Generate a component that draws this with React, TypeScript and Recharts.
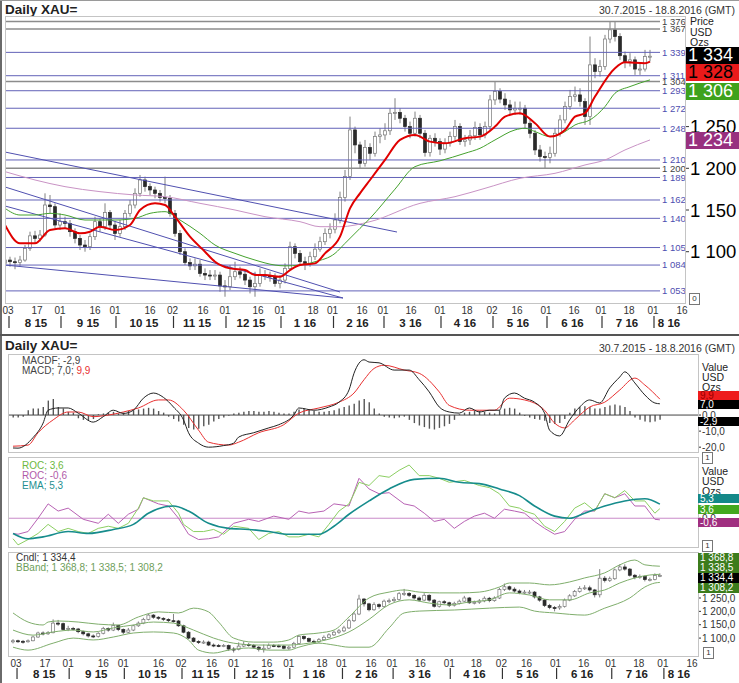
import React from 'react'
import { ComposedChart, Bar, Line, XAxis, YAxis, ReferenceLine } from 'recharts'

const FONT = '"Liberation Sans", Arial, sans-serif'

// x axis: one index step = two trading days
const dayTicks = [0.6, 6.4, 11, 18, 22, 29, 33.5, 39.6, 44, 50.6, 55, 61.6, 65.5, 71.4, 75.6, 81.2, 87, 92.4, 97.4, 102.4, 108.2, 113.8, 119.2, 124.8, 129.6, 135.4]
const dayLabels = ['03', '17', '01', '16', '01', '16', '02', '16', '01', '16', '01', '18', '01', '16', '01', '16', '01', '18', '02', '16', '01', '16', '01', '18', '01', '16']
const monthTicks = [6.2, 16.6, 27.8, 38.4, 49.2, 60, 70.5, 81.1, 92, 102.6, 113.5, 124.4, 132.8]
const monthLabels = ['8 15', '9 15', '10 15', '11 15', '12 15', '1 16', '2 16', '3 16', '4 16', '5 16', '6 16', '7 16', '8 16']

// candles
const firstOpen = 1086
const closes = [
  1090, 1088, 1087, 1090, 1104, 1119, 1116, 1120, 1156, 1154,
  1132, 1136, 1134, 1124, 1116, 1108, 1106, 1118, 1136, 1130,
  1147, 1132, 1122, 1130, 1146, 1156, 1170, 1186, 1178, 1174,
  1170, 1165, 1164, 1146, 1122, 1100, 1087, 1083, 1085, 1074,
  1072, 1071, 1072, 1059, 1058, 1070, 1076, 1073, 1066, 1058,
  1062, 1072, 1071, 1070, 1062, 1066, 1080, 1106, 1098, 1088,
  1086, 1094, 1103, 1112, 1122, 1127, 1138, 1165, 1190, 1246,
  1228, 1206, 1225, 1218, 1238, 1240, 1245, 1266, 1267, 1260,
  1250, 1242, 1260, 1242, 1219, 1236, 1232, 1223, 1230, 1238,
  1250, 1232, 1234, 1239, 1249, 1240, 1250, 1282, 1292, 1283,
  1276, 1270, 1272, 1272, 1254, 1242, 1222, 1214, 1213, 1218,
  1242, 1258, 1274, 1286, 1288, 1280, 1262, 1324, 1316, 1322,
  1355, 1366, 1358, 1335, 1328, 1330, 1319, 1319, 1334, 1334.4
]
const highs = [
  1096, 1094, 1093, 1095, 1108, 1124, 1125, 1126, 1170, 1168,
  1158, 1146, 1142, 1138, 1128, 1120, 1114, 1122, 1142, 1140,
  1158, 1150, 1136, 1138, 1150, 1162, 1176, 1192, 1190, 1182,
  1178, 1174, 1190, 1168, 1150, 1126, 1104, 1092, 1092, 1090,
  1080, 1078, 1078, 1076, 1066, 1084, 1088, 1082, 1078, 1070,
  1076, 1080, 1078, 1076, 1074, 1072, 1086, 1112, 1110, 1102,
  1094, 1100, 1110, 1118, 1128, 1134, 1146, 1172, 1198, 1262,
  1250, 1232, 1234, 1230, 1244, 1248, 1254, 1272, 1284, 1272,
  1264, 1256, 1268, 1264, 1246, 1240, 1242, 1236, 1236, 1244,
  1258, 1254, 1240, 1246, 1256, 1254, 1256, 1288, 1304, 1296,
  1290, 1282, 1280, 1280, 1276, 1258, 1246, 1228, 1220, 1226,
  1248, 1264, 1280, 1294, 1298, 1296, 1284, 1358, 1332, 1330,
  1360, 1376, 1376, 1362, 1340, 1338, 1334, 1326, 1342, 1342
]
const lows = [
  1080, 1082, 1079, 1083, 1088, 1101, 1110, 1112, 1118, 1146,
  1128, 1126, 1128, 1118, 1110, 1102, 1100, 1102, 1114, 1124,
  1126, 1126, 1114, 1118, 1126, 1142, 1152, 1166, 1172, 1168,
  1164, 1160, 1158, 1142, 1118, 1096, 1084, 1078, 1078, 1070,
  1066, 1066, 1066, 1052, 1046, 1054, 1066, 1068, 1060, 1050,
  1046, 1058, 1066, 1064, 1058, 1056, 1062, 1078, 1092, 1084,
  1078, 1082, 1090, 1100, 1108, 1116, 1122, 1134, 1160, 1186,
  1218, 1200, 1202, 1210, 1214, 1230, 1234, 1240, 1258, 1254,
  1244, 1236, 1238, 1236, 1214, 1214, 1226, 1216, 1218, 1226,
  1234, 1228, 1226, 1228, 1234, 1234, 1236, 1246, 1276, 1278,
  1270, 1264, 1264, 1264, 1248, 1236, 1216, 1208, 1200, 1206,
  1214, 1238, 1254, 1270, 1280, 1274, 1252, 1252, 1308, 1310,
  1318, 1350, 1352, 1330, 1320, 1322, 1312, 1312, 1316, 1328
]

// moving averages [index, value]
const maFast = [[0, 1132], [3, 1110], [6, 1110], [9, 1126], [12, 1128], [15, 1122], [17, 1124], [19, 1130], [22, 1126], [25, 1132], [27, 1150], [30, 1158], [32, 1156], [34, 1142], [37, 1118], [40, 1100], [42, 1088], [45, 1080], [48, 1078], [50, 1072], [52, 1072], [55, 1070], [57, 1078], [59, 1084], [62, 1086], [64, 1098], [67, 1118], [69, 1152], [71, 1170], [73, 1186], [76, 1210], [79, 1234], [82, 1240], [85, 1232], [88, 1230], [92, 1236], [95, 1238], [98, 1250], [100, 1262], [103, 1266], [106, 1254], [109, 1238], [112, 1246], [114, 1262], [116, 1266], [118, 1286], [122, 1320], [124, 1327], [128, 1326], [129, 1328]]
const maMid = [[0, 1152], [3, 1144], [6, 1144], [9, 1146], [12, 1144], [16, 1138], [19, 1138], [22, 1138], [26, 1140], [29, 1146], [32, 1148], [35, 1138], [39, 1122], [42, 1108], [46, 1098], [50, 1090], [54, 1084], [56, 1083], [59, 1084], [62, 1088], [66, 1098], [68, 1110], [71, 1128], [73, 1140], [78, 1175], [82, 1202], [87, 1209], [92, 1218], [95, 1224], [98, 1234], [102, 1246], [104, 1248], [106, 1244], [109, 1238], [112, 1244], [114, 1252], [117, 1258], [120, 1274], [122, 1290], [125, 1298], [129, 1306]]
const maSlow = [[0, 1196], [6, 1186], [12, 1178], [19, 1172], [26, 1168], [32, 1166], [39, 1158], [46, 1150], [52, 1142], [59, 1136], [63, 1130], [67, 1130], [73, 1136], [83, 1158], [90, 1166], [96, 1176], [103, 1188], [110, 1194], [116, 1204], [120, 1210], [124, 1222], [129, 1234]]

const levels = [1376, 1367, 1339, 1311, 1304, 1293, 1272, 1248, 1210, 1200, 1189, 1162, 1140, 1105, 1084, 1053]
const greyLevels = [1376, 1367, 1304, 1200]
const trendLines = [
  [[0, 1219.5], [78.4, 1123.6]],
  [[0, 1177.6], [67, 1051.7]],
  [[0, 1154.8], [67.6, 1044.5]],
  [[0, 1084], [67.6, 1044.5]]
]

// MACD
const macdLine = [[0, -20.5], [1, -20.6], [4, -14], [6, -5], [7, 3], [9, 4.4], [11, 4.4], [13, 1.2], [16, -4.4], [18, -1], [20, 3], [22, 1], [24, 3], [26, 10.5], [28, 13.7], [30, 11], [32, 5], [34, -3], [35, -11], [37, -17.5], [39, -20], [42, -19], [44, -17.5], [45, -13.7], [48, -11], [51, -8], [53, -6], [56, 0], [57, 4.4], [60, 3], [63, 5], [65, 8], [67, 15.6], [68, 26], [70, 34.4], [71, 33], [73, 32.5], [76, 28], [79, 28], [81, 22], [83, 14.4], [85, 5], [87, 1.9], [89, 1.2], [91, 4.4], [93, 1.9], [95, 3], [97, 3], [98, 10.5], [100, 13.7], [102, 10.5], [104, 8], [106, 1.2], [107, -9.4], [109, -13], [111, -3], [113, 5], [115, 9.4], [117, 7.5], [119, 16.9], [121, 23.7], [122, 26.9], [124, 20], [126, 12.5], [128, 7.5], [129, 7.0]]
const macdSignal = [[0, -19.4], [3, -18.7], [5, -11], [8, -3], [11, 1.9], [13, 1.9], [16, -1], [19, 0], [22, 1.9], [25, 4.4], [29, 9.4], [31, 9.4], [34, 3], [37, -9.4], [39, -16.9], [43, -18.7], [45, -16.9], [49, -11], [54, -6], [57, 1.2], [61, 4.4], [65, 8], [68, 13.7], [70, 22], [72, 29], [74, 31], [78, 28], [81, 26], [85, 14.4], [87, 6], [91, 3], [93, 3], [96, 3], [99, 10.5], [102, 9.4], [106, 3], [108, -5], [110, -8], [112, -3], [115, 5], [118, 8], [121, 15.6], [124, 23], [126, 18.7], [129, 9.9]]
const macdHist = [
  -1.5, -1.5, -1, 3, 4, 4, 5, 9, 10, 5,
  4, 2, 1.5, -2, -3, -3.5, -2.5, 0.5, 1, 1.5,
  2, 1, 1.5, 2.5, 3, 3.5, 4, 4.5, 4, 2.5,
  1.5, -1, -2.5, -4, -6, -8, -9, -8.5, -7, -6,
  -4, -2.5, -1.5, -0.5, 1, 1.5, 2, 2.5, 2.5, 2,
  2, 2.5, 2, 1.5, 1, 1, 2, 3.5, 4, 3.5,
  2.5, 2, 2, 2.5, 3, 4, 5, 6, 7, 9,
  10, 8, 4, 1, -1, -1.5, -2, -1.5, -1, -3,
  -5, -6.5, -7.5, -8.5, -9, -8, -7, -5.5, -3, 0.5,
  1.5, 2, 2.5, 2.5, 2, 1.5, 1, 3, 4, 4.5,
  4, 1.5, -0.5, -1.5, -2.5, -3, -3.5, -5, -5.5, -5,
  -2.5, 1.5, 4, 5, 5.5, 5, 4, 4, 5, 6,
  6.5, 6, 5, 2.5, -1.5, -3, -4, -4.5, -4, -2.9
]

// ROC
const rocFast = [[0, -7.7], [1, -10], [3, -8], [5, -5.7], [7, -2.3], [9, -5], [11, -3.8], [13, -5], [15, -5.7], [17, -3.8], [19, -3], [21, -3.8], [23, -1.9], [25, 3.8], [26, 7.7], [28, 6.5], [31, 6.5], [33, 1.9], [34, -2.3], [36, -5], [38, -5], [40, -4.2], [42, -6], [44, -3], [47, -3.8], [49, -8], [51, -5.7], [53, -5], [55, -7], [57, -7], [59, -6], [61, -7], [63, -2.3], [65, 2.7], [67, 5.4], [68, 9.2], [69, 13.5], [71, 12.3], [73, 16], [75, 15.4], [77, 18], [79, 20], [81, 16], [83, 16], [85, 15], [87, 13.5], [90, 14.2], [93, 12.3], [95, 11.5], [97, 9.2], [99, 4.6], [101, 3.8], [102, 2.7], [104, 1.5], [106, -3], [108, -5], [110, -1.2], [112, 3.8], [114, 5.8], [116, 2.7], [118, 9.2], [120, 7.7], [122, 10.4], [124, 6.5], [126, 6.5], [128, 1.9], [129, 3.6]]
const rocSlow = [[0, -5.7], [1, -6], [3, -5], [5, 0], [7, 5.4], [9, 2.7], [11, 3.8], [14, -0.4], [17, -1.9], [19, 1.5], [21, -1.9], [23, 1.5], [25, 3.4], [26, 7.7], [29, 5.4], [31, 4.6], [33, 0], [35, -6], [37, -8], [39, -7.7], [41, -7], [44, -1.9], [47, -0.4], [49, -1.2], [52, 0.8], [55, -0.4], [57, 2.7], [59, 1.9], [62, 2.7], [64, 5.4], [67, 4.6], [69, 15], [71, 11], [73, 9.2], [75, 9.6], [78, 5.4], [80, 4.6], [82, 1.9], [84, -1.2], [86, -0.4], [88, -3.8], [90, -1.2], [92, 0.8], [94, 1.9], [96, 0], [98, 3.4], [100, 2.7], [102, 1.9], [104, -1.2], [106, -3.8], [108, -6], [110, -5], [112, -0.4], [114, 2.7], [116, 2.7], [118, 9.2], [120, 7.7], [122, 9.2], [124, 4.6], [126, 4.6], [128, -0.4], [129, -0.6]]
const rocEma = [[0, -5.7], [3, -7.7], [6, -7], [11, -5], [15, -5.7], [20, -4.2], [24, -2.3], [27, 1.9], [32, 4.6], [35, 2.7], [39, -1.9], [43, -3.8], [47, -4.2], [51, -5], [55, -6], [61, -6], [64, -3], [67, 1.5], [71, 6.5], [75, 11], [80, 14.6], [85, 15], [89, 13.5], [93, 13], [97, 11], [101, 8.5], [104, 4.6], [108, 0.8], [111, 0], [114, 1.9], [118, 4.6], [122, 6.5], [126, 7.3], [129, 5.3]]

// Bollinger bands
const bbUpper = [[0, 1194], [3, 1160], [6, 1149], [7, 1160], [9, 1164], [13, 1160], [17, 1152], [21, 1149], [25, 1179], [29, 1198], [33, 1194], [36, 1212], [39, 1198], [41, 1160], [44, 1100], [48, 1085], [52, 1085], [55, 1093], [57, 1111], [61, 1119], [64, 1130], [67, 1179], [71, 1250], [75, 1272], [78, 1280], [81, 1272], [85, 1269], [89, 1269], [93, 1272], [97, 1291], [99, 1306], [103, 1306], [107, 1299], [111, 1310], [114, 1325], [118, 1344], [121, 1374], [124, 1392], [126, 1374], [129, 1368.8]]
const bbMiddle = [[0, 1130], [4, 1111], [8, 1123], [12, 1130], [16, 1123], [20, 1138], [24, 1149], [28, 1160], [32, 1156], [36, 1130], [40, 1100], [44, 1081], [49, 1074], [55, 1074], [59, 1081], [63, 1096], [67, 1123], [71, 1170], [75, 1225], [79, 1243], [83, 1231], [87, 1224], [91, 1235], [95, 1243], [99, 1269], [103, 1261], [107, 1243], [111, 1243], [115, 1269], [118, 1280], [121, 1306], [124, 1325], [127, 1336], [129, 1338.5]]
const bbLower = [[0, 1066], [3, 1055], [8, 1081], [12, 1100], [16, 1093], [20, 1104], [24, 1119], [28, 1123], [32, 1119], [35, 1093], [37, 1055], [40, 1044], [43, 1055], [47, 1063], [51, 1055], [55, 1055], [57, 1066], [61, 1081], [64, 1074], [67, 1066], [71, 1066], [75, 1138], [78, 1194], [81, 1201], [88, 1205], [95, 1212], [101, 1216], [104, 1201], [108, 1194], [114, 1186], [118, 1212], [123, 1250], [126, 1291], [128, 1306], [129, 1308.2]]

const rows: any[] = closes.map((c, i) => ({
  i,
  open: i === 0 ? firstOpen : closes[i - 1],
  close: c,
  high: highs[i],
  low: lows[i],
  range: [lows[i], highs[i]],
  hist: macdHist[i]
}))
const put = (key: string, pts: number[][]) => pts.forEach(([i, v]) => { rows[i][key] = v })
put('maFast', maFast)
put('maMid', maMid)
put('maSlow', maSlow)
put('macd', macdLine)
put('signal', macdSignal)
put('rocFast', rocFast)
put('rocSlow', rocSlow)
put('rocEma', rocEma)
put('bbU', bbUpper)
put('bbM', bbMiddle)
put('bbL', bbLower)

const last = (pts: number[][]) => pts[pts.length - 1][1]

const fmt = (v: number, dec = 0) => {
  const s = Math.abs(v).toFixed(dec)
  const [int, frac] = s.split('.')
  const g = int.replace(/\B(?=(\d{3})+(?!\d))/g, ' ')
  return (v < 0 ? '-' : '') + g + (frac ? ',' + frac : '')
}

const Candle = (props: any) => {
  const { x, y, width, height, payload } = props
  if (payload == null || height == null || isNaN(y)) return null
  const { open, close, high, low } = payload
  const k = high - low ? height / (high - low) : 0
  const yo = y + (high - open) * k
  const yc = y + (high - close) * k
  const top = Math.min(yo, yc)
  const h = Math.max(1, Math.abs(yo - yc))
  const cx = x + width / 2
  const up = close >= open
  return (
    <g>
      <line x1={cx} x2={cx} y1={y} y2={y + height} stroke="#808080" strokeWidth={1} />
      <rect x={x} y={top} width={width} height={h} fill={up ? '#ffffff' : '#2a2a2a'} stroke={up ? '#777' : '#2a2a2a'} strokeWidth={0.7} />
    </g>
  )
}

const DayTick = ({ x, y, payload, sepFrom, sepTo, dy }: any) => {
  const idx = dayTicks.indexOf(payload.value)
  const label = dayLabels[idx] ?? ''
  const monthStart = Number(label) <= 3
  return (
    <g>
      <text x={x} y={y + dy} textAnchor="middle" fontSize={10} fill="#333" fontFamily={FONT}>{label}</text>
      {monthStart && <line x1={x + 1} x2={x + 1} y1={y + sepFrom} y2={y + sepTo} stroke="#333" strokeWidth={1.2} />}
    </g>
  )
}

const MonthTick = ({ x, y, payload, dy }: any) => {
  const idx = monthTicks.indexOf(payload.value)
  return (
    <text x={x} y={y + dy} textAnchor="middle" fontSize={11.5} fontWeight="bold" fill="#222" fontFamily={FONT}>{monthLabels[idx]}</text>
  )
}

// right axis tick that never wraps
const ValueTick = ({ x, y, payload, dec, size = 10, len = 3 }: any) => (
  <g>
    <line x1={x} x2={x + len} y1={y} y2={y} stroke="#333" strokeWidth={1} />
    <text x={x + len + 1} y={y + size * 0.36} fontSize={size} fill={size > 12 ? '#000' : '#333'} fontFamily={FONT}>{fmt(payload.value, dec)}</text>
  </g>
)

const Tag = ({ top, left, w, h, bg, color, text, size }: any) => (
  <div style={{ position: 'absolute', top, left, width: w, height: h, background: bg, color, fontSize: size, lineHeight: h + 'px', paddingLeft: 2, fontFamily: FONT, whiteSpace: 'nowrap', boxSizing: 'border-box' }}>{text}</div>
)

const Txt = ({ top, left, size, color = '#222', bold, children, right }: any) => (
  <div style={{ position: 'absolute', top, left, right, fontSize: size, color, fontFamily: FONT, fontWeight: bold ? 'bold' : 'normal', whiteSpace: 'nowrap', lineHeight: 1 }}>{children}</div>
)

const Frame = ({ left, top, width, height, color = '#c4c4c4' }: any) => (
  <div style={{ position: 'absolute', left, top, width, height, border: '1px solid ' + color, boxSizing: 'border-box', pointerEvents: 'none' }} />
)

const SmallBox = ({ left, top, text }: any) => (
  <div style={{ position: 'absolute', left, top, width: 9, height: 10, border: '1px solid #777', fontSize: 8, lineHeight: '10px', textAlign: 'center', fontFamily: FONT, color: '#333', background: '#fff' }}>{text}</div>
)

const TOP_DOMAIN: [number, number] = [0, 136]
const BOT_DOMAIN: [number, number] = [-1, 136.6]

export default function App() {
  const lastClose = closes[closes.length - 1]
  return (
    <div style={{ position: 'absolute', left: 0, top: 0, width: 739, height: 683, background: '#fff', overflow: 'hidden', fontFamily: FONT }}>
      {/* outer lines */}
      <div style={{ position: 'absolute', left: 0, top: 0, width: 2, height: 683, background: '#6a6a6a' }} />
      <div style={{ position: 'absolute', left: 0, top: 0, width: 739, height: 1, background: '#9a9a9a' }} />
      <div style={{ position: 'absolute', left: 0, top: 334, width: 739, height: 2, background: '#555' }} />

      {/* ---------- top panel ---------- */}
      <Txt top={3} left={5} size={13.5} bold>Daily XAU=</Txt>
      <Txt top={5} right={4} size={10.5} color="#333">30.7.2015 - 18.8.2016 (GMT)</Txt>
      <div style={{ position: 'absolute', left: 0, top: 0 }}>
        <ComposedChart width={739} height={336} data={rows} margin={{ top: 16, right: 0, left: 5, bottom: 0 }}>
          <XAxis xAxisId="d" type="number" dataKey="i" domain={TOP_DOMAIN} allowDataOverflow ticks={dayTicks} interval={0}
            tickLine={false} axisLine={false} tickSize={0} tickMargin={0} height={14}
            tick={(p: any) => <DayTick {...p} dy={11} sepFrom={13} sepTo={25} />} />
          <XAxis xAxisId="m" type="number" dataKey="i" domain={TOP_DOMAIN} allowDataOverflow ticks={monthTicks} interval={0}
            tickLine={false} axisLine={false} tickSize={0} tickMargin={0} height={19}
            tick={(p: any) => <MonthTick {...p} dy={10} />} />
          <YAxis yAxisId="p" orientation="right" width={54} domain={[1038.5, 1382.6]} allowDataOverflow interval={0}
            ticks={[1100, 1150, 1200, 1250]} axisLine={false} tickLine={false} tickSize={0} tickMargin={0}
            tick={(p: any) => <ValueTick {...p} dec={0} size={18.5} len={4} />} />
          {levels.map((lv) => {
            const grey = greyLevels.includes(lv)
            return (
              <ReferenceLine key={lv} xAxisId="d" yAxisId="p" segment={[{ x: 0, y: lv }, { x: 131, y: lv }]}
                stroke={grey ? '#8c8c8c' : '#6262b8'} strokeWidth={grey ? 1.6 : 1}
                label={{ value: fmt(lv), position: 'right', offset: 2, fontSize: 9.5, fill: grey ? '#444' : '#4f4fb0', fontFamily: FONT }} />
            )
          })}
          {trendLines.map((t, k) => (
            <ReferenceLine key={'t' + k} xAxisId="d" yAxisId="p" segment={[{ x: t[0][0], y: t[0][1] }, { x: t[1][0], y: t[1][1] }]}
              stroke="#5050b0" strokeWidth={1} />
          ))}
          <Line xAxisId="d" yAxisId="p" dataKey="maSlow" type="monotone" stroke="#c993c5" strokeWidth={1} dot={false} connectNulls isAnimationActive={false} />
          <Line xAxisId="d" yAxisId="p" dataKey="maMid" type="monotone" stroke="#45a22e" strokeWidth={1} dot={false} connectNulls isAnimationActive={false} />
          <Bar xAxisId="d" yAxisId="p" dataKey="range" barSize={3} shape={<Candle />} isAnimationActive={false} />
          <Line xAxisId="d" yAxisId="p" dataKey="maFast" type="monotone" stroke="#e00000" strokeWidth={2} dot={false} connectNulls isAnimationActive={false} />
        </ComposedChart>
      </div>
      <Frame left={5} top={16} width={681} height={288} />
      <Txt top={16} left={690} size={10.5}>Price</Txt>
      <Txt top={27} left={690} size={10.5}>USD</Txt>
      <Txt top={37} left={690} size={10.5}>Ozs</Txt>
      <Tag top={47} left={686} w={53} h={17} bg="#000" color="#fff" size={18} text={fmt(lastClose)} />
      <Tag top={64} left={686} w={53} h={17} bg="#ea1a1a" color="#000" size={18} text={fmt(last(maFast))} />
      <Tag top={83} left={686} w={53} h={17} bg="#3ea21c" color="#fff" size={18} text={fmt(last(maMid))} />
      <Tag top={132} left={686} w={53} h={17} bg="#98307f" color="#fff" size={18} text={fmt(last(maSlow))} />
      <SmallBox left={689} top={293} text="0" />

      {/* ---------- bottom panel ---------- */}
      <Txt top={339} left={5} size={13.5} bold>Daily XAU=</Txt>
      <Txt top={343} right={4} size={10.5} color="#333">30.7.2015 - 18.8.2016 (GMT)</Txt>

      {/* MACD */}
      <div style={{ position: 'absolute', left: 0, top: 354 }}>
        <ComposedChart width={739} height={98} data={rows} margin={{ top: 0, right: 0, left: 8, bottom: 0 }}>
          <XAxis xAxisId="d" type="number" dataKey="i" domain={BOT_DOMAIN} allowDataOverflow hide />
          <YAxis yAxisId="v" orientation="right" width={41} domain={[-23, 38]} allowDataOverflow ticks={[0, -10, -20]} interval={0}
            axisLine={false} tickLine={false} tickSize={0} tickMargin={0}
            tick={(p: any) => <ValueTick {...p} dec={1} />} />
          <ReferenceLine xAxisId="d" yAxisId="v" y={0} stroke="#444" strokeWidth={1} />
          <Bar xAxisId="d" yAxisId="v" dataKey="hist" barSize={1.4} fill="#555" isAnimationActive={false} />
          <Line xAxisId="d" yAxisId="v" dataKey="signal" type="monotone" stroke="#e83030" strokeWidth={1} dot={false} connectNulls isAnimationActive={false} />
          <Line xAxisId="d" yAxisId="v" dataKey="macd" type="monotone" stroke="#222" strokeWidth={1} dot={false} connectNulls isAnimationActive={false} />
        </ComposedChart>
      </div>
      <Frame left={8} top={354} width={691} height={99} />
      <Txt top={356} left={22} size={10} color="#444">MACDF; {fmt(macdHist[macdHist.length - 1], 1)}</Txt>
      <Txt top={366} left={22} size={10} color="#444">MACD; {fmt(last(macdLine), 1)}; <span style={{ color: '#e83030' }}>{fmt(last(macdSignal), 1)}</span></Txt>
      <Txt top={362} left={702} size={10.5}>Value</Txt>
      <Txt top={372} left={702} size={10.5}>USD</Txt>
      <Txt top={382} left={702} size={10.5}>Ozs</Txt>
      <Tag top={391} left={698} w={41} h={9} bg="#ee1c1c" color="#900" size={10} text={fmt(last(macdSignal), 1)} />
      <Tag top={400} left={698} w={41} h={9} bg="#000" color="#fff" size={10} text={fmt(last(macdLine), 1)} />
      <Tag top={417} left={698} w={41} h={9} bg="#000" color="#fff" size={10} text={fmt(macdHist[macdHist.length - 1], 1)} />
      <SmallBox left={702} top={452} text="1" />

      {/* ROC */}
      <div style={{ position: 'absolute', left: 0, top: 457 }}>
        <ComposedChart width={739} height={90} data={rows} margin={{ top: 0, right: 0, left: 8, bottom: 0 }}>
          <XAxis xAxisId="d" type="number" dataKey="i" domain={BOT_DOMAIN} allowDataOverflow hide />
          <YAxis yAxisId="v" orientation="right" width={41} domain={[-10.8, 23]} allowDataOverflow ticks={[0]} interval={0}
            axisLine={false} tickLine={false} tickSize={0} tickMargin={0}
            tick={(p: any) => <ValueTick {...p} dec={1} />} />
          <ReferenceLine xAxisId="d" yAxisId="v" y={0} stroke="#c98bc9" strokeWidth={1} />
          <Line xAxisId="d" yAxisId="v" dataKey="rocSlow" type="linear" stroke="#b862b4" strokeWidth={1} dot={false} connectNulls isAnimationActive={false} />
          <Line xAxisId="d" yAxisId="v" dataKey="rocFast" type="linear" stroke="#8ccf62" strokeWidth={1} dot={false} connectNulls isAnimationActive={false} />
          <Line xAxisId="d" yAxisId="v" dataKey="rocEma" type="monotone" stroke="#168c8c" strokeWidth={1.6} dot={false} connectNulls isAnimationActive={false} />
        </ComposedChart>
      </div>
      <Frame left={8} top={457} width={691} height={91} />
      <Txt top={461} left={22} size={10} color="#6cb840">ROC; {fmt(last(rocFast), 1)}</Txt>
      <Txt top={471} left={22} size={10} color="#b05aa8">ROC; {fmt(last(rocSlow), 1)}</Txt>
      <Txt top={481} left={22} size={10} color="#1f8f8f">EMA; {fmt(last(rocEma), 1)}</Txt>
      <Txt top={466} left={702} size={10.5}>Value</Txt>
      <Txt top={476} left={702} size={10.5}>USD</Txt>
      <Txt top={486} left={702} size={10.5}>Ozs</Txt>
      <Tag top={494} left={698} w={41} h={9} bg="#148888" color="#fff" size={10} text={fmt(last(rocEma), 1)} />
      <Tag top={505} left={698} w={41} h={9} bg="#43a81e" color="#fff" size={10} text={fmt(last(rocFast), 1)} />
      <Tag top={518} left={698} w={41} h={9} bg="#a02f80" color="#fff" size={10} text={fmt(last(rocSlow), 1)} />
      <SmallBox left={702} top={540} text="1" />

      {/* Candles + Bollinger */}
      <div style={{ position: 'absolute', left: 0, top: 552 }}>
        <ComposedChart width={739} height={131} data={rows} margin={{ top: 0, right: 0, left: 8, bottom: 0 }}>
          <XAxis xAxisId="d" type="number" dataKey="i" domain={BOT_DOMAIN} allowDataOverflow ticks={dayTicks} interval={0}
            tickLine={false} axisLine={false} tickSize={0} tickMargin={0} height={12}
            tick={(p: any) => <DayTick {...p} dy={11} sepFrom={12} sepTo={23} />} />
          <XAxis xAxisId="m" type="number" dataKey="i" domain={BOT_DOMAIN} allowDataOverflow ticks={monthTicks} interval={0}
            tickLine={false} axisLine={false} tickSize={0} tickMargin={0} height={15}
            tick={(p: any) => <MonthTick {...p} dy={10} />} />
          <YAxis yAxisId="v" orientation="right" width={41} domain={[1033, 1422]} allowDataOverflow interval={0}
            ticks={[1100, 1150, 1200, 1250]} axisLine={false} tickLine={false} tickSize={0} tickMargin={0}
            tick={(p: any) => <ValueTick {...p} dec={1} />} />
          <Line xAxisId="d" yAxisId="v" dataKey="bbU" type="monotone" stroke="#7fae6c" strokeWidth={1} dot={false} connectNulls isAnimationActive={false} />
          <Line xAxisId="d" yAxisId="v" dataKey="bbM" type="monotone" stroke="#7fae6c" strokeWidth={1} dot={false} connectNulls isAnimationActive={false} />
          <Line xAxisId="d" yAxisId="v" dataKey="bbL" type="monotone" stroke="#7fae6c" strokeWidth={1} dot={false} connectNulls isAnimationActive={false} />
          <Bar xAxisId="d" yAxisId="v" dataKey="range" barSize={3} shape={<Candle />} isAnimationActive={false} />
        </ComposedChart>
      </div>
      <Frame left={8} top={552} width={691} height={105} />
      <Txt top={553} left={16} size={10} color="#333">Cndl; {fmt(lastClose, 1)}</Txt>
      <Txt top={563} left={16} size={10} color="#6e9e5a">BBand; {fmt(last(bbUpper), 1)}; {fmt(last(bbMiddle), 1)}; {fmt(last(bbLower), 1)}</Txt>
      <Tag top={553} left={698} w={41} h={10} bg="#3c7c1c" color="#fff" size={10} text={fmt(last(bbUpper), 1)} />
      <Tag top={563} left={698} w={41} h={10} bg="#3c7c1c" color="#fff" size={10} text={fmt(last(bbMiddle), 1)} />
      <Tag top={573} left={698} w={41} h={10} bg="#000" color="#fff" size={10} text={fmt(lastClose, 1)} />
      <Tag top={583} left={698} w={41} h={10} bg="#3c7c1c" color="#fff" size={10} text={fmt(last(bbLower), 1)} />
      <SmallBox left={703} top={647} text="1" />
    </div>
  )
}
